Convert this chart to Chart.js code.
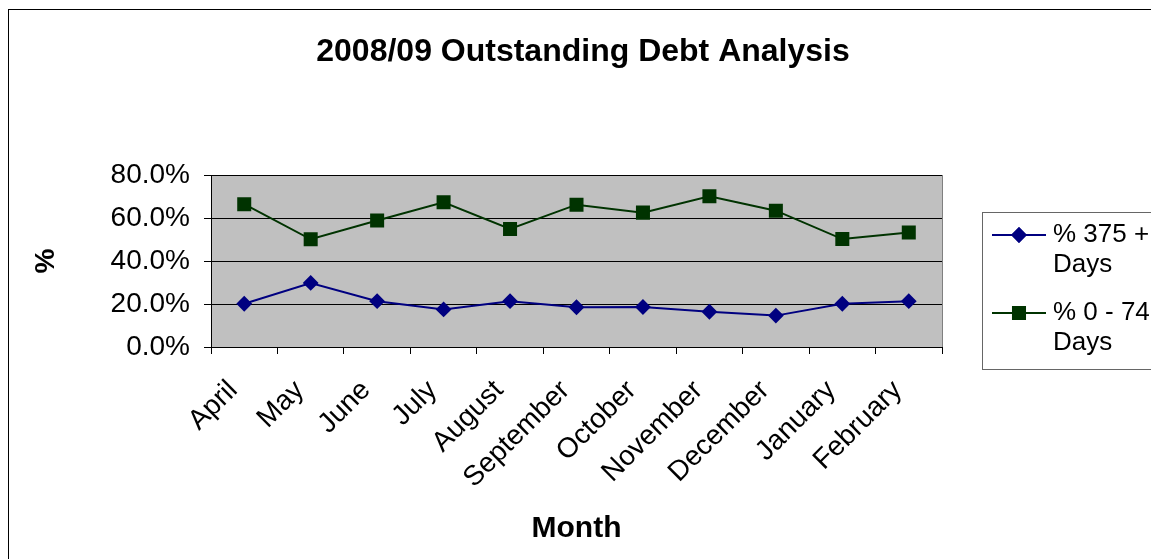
<!DOCTYPE html>
<html>
<head>
<meta charset="utf-8">
<script src="https://cdn.jsdelivr.net/npm/chart.js@4/dist/chart.umd.min.js"></script>
<style>
  html, body { margin: 0; padding: 0; background: #fff; }
  #wrap { width: 1151px; height: 559px; }
</style>
</head>
<body>
<div id="wrap"><canvas id="debt" width="1151" height="559"></canvas></div>
<script>
// Data
const months = ['April', 'May', 'June', 'July', 'August', 'September', 'October', 'November', 'December', 'January', 'February'];
const over375 = [20.1, 29.8, 21.3, 17.5, 21.3, 18.5, 18.6, 16.4, 14.6, 20.1, 21.3];
const days0to74 = [66.4, 50.1, 58.8, 67.3, 54.9, 66.2, 62.5, 70.1, 63.4, 50.2, 53.3];
const yTicks = [0, 20, 40, 60, 80];

const FONT = '"Liberation Sans", Arial, sans-serif';

// Grey plot area, outer frame and the wrapped legend box
const excelLook = {
    id: 'excelLook',
    beforeDraw(chart) {
        const ctx = chart.ctx;
        const a = chart.chartArea;
        ctx.save();
        ctx.fillStyle = '#fff';
        ctx.fillRect(0, 0, chart.width, chart.height);
        ctx.fillStyle = '#C0C0C0';
        ctx.fillRect(a.left, a.top, a.right - a.left, a.bottom - a.top);
        ctx.restore();
        // Excel anchors the slanted month labels a little further left/down
        chart.scales.x.getLabelItems().forEach(it => {
            it.options.translation[0] -= 11;
            it.options.translation[1] += 6;
        });
    },
    beforeDatasetsDraw(chart) {
        const ctx = chart.ctx;
        const a = chart.chartArea;
        ctx.save();
        ctx.strokeStyle = '#808080';
        ctx.lineWidth = 1;
        ctx.beginPath();
        ctx.moveTo(a.right + 0.5, a.top);
        ctx.lineTo(a.right + 0.5, a.bottom);
        ctx.stroke();
        ctx.restore();
    },
    afterDraw(chart) {
        const ctx = chart.ctx;
        ctx.save();
        // outer frame
        ctx.strokeStyle = '#000';
        ctx.lineWidth = 1;
        ctx.strokeRect(8.5, 9.5, 1200, 600);
        // legend box
        ctx.strokeStyle = '#666';
        ctx.strokeRect(982.5, 212.5, 300, 157);
        ctx.font = '26px ' + FONT;
        ctx.fillStyle = '#000';
        ctx.textBaseline = 'middle';
        let y = 235;
        chart.data.datasets.forEach(ds => {
            ctx.strokeStyle = ds.borderColor;
            ctx.lineWidth = 2;
            ctx.beginPath();
            ctx.moveTo(992, y);
            ctx.lineTo(1046, y);
            ctx.stroke();
            Chart.helpers.drawPoint(ctx, {
                pointStyle: ds.pointStyle,
                radius: ds.pointRadius,
                borderWidth: 1,
                rotation: 0
            }, 1019, y);
            ctx.fillStyle = ds.backgroundColor;
            ctx.strokeStyle = ds.borderColor;
            ctx.fill();
            ctx.stroke();
            // wrap label into lines that fit the box
            const words = ds.label.split(' ');
            const lines = [];
            let cur = '';
            words.forEach(w => {
                const test = cur ? cur + ' ' + w : w;
                if (ctx.measureText(test).width > 112 && cur) {
                    lines.push(cur);
                    cur = w;
                } else {
                    cur = test;
                }
            });
            lines.push(cur);
            ctx.fillStyle = '#000';
            lines.forEach((ln, i) => ctx.fillText(ln, 1053, y + i * 30));
            y += 78;
        });
        ctx.restore();
    }
};

new Chart(document.getElementById('debt').getContext('2d'), {
    type: 'line',
    data: {
        labels: months,
        datasets: [{
            label: '% 375 + Days',
            data: over375,
            borderColor: '#000080',
            backgroundColor: '#000080',
            borderWidth: 2,
            pointStyle: 'rectRot',
            pointRadius: 6.5,
            pointHoverRadius: 6.5,
            tension: 0
        }, {
            label: '% 0 - 74 Days',
            data: days0to74,
            borderColor: '#003300',
            backgroundColor: '#003300',
            borderWidth: 2,
            pointStyle: 'rect',
            pointRadius: 8.5,
            pointHoverRadius: 8.5,
            tension: 0
        }]
    },
    options: {
        responsive: false,
        animation: false,
        events: [],
        layout: { padding: { left: 15, right: 0, top: 0, bottom: 0 } },
        plugins: {
            legend: { display: false },
            tooltip: { enabled: false },
            title: {
                display: true,
                text: '2008/09 Outstanding Debt Analysis',
                color: '#000',
                font: { family: FONT, size: 32, weight: 'bold' },
                padding: { top: 33, bottom: 103.6 }
            }
        },
        scales: {
            x: {
                offset: true,
                afterFit: s => { s.height = 212; },
                grid: { display: true, drawOnChartArea: false, drawTicks: true, tickLength: 7, color: '#000', offset: true },
                border: { display: true, color: '#000', width: 1 },
                ticks: {
                    autoSkip: false,
                    maxRotation: 45,
                    minRotation: 45,
                    padding: 14,
                    color: '#000',
                    font: { family: FONT, size: 28 }
                },
                title: {
                    display: true,
                    text: 'Month',
                    color: '#000',
                    font: { family: FONT, size: 30, weight: 'bold' },
                    padding: { top: 0, bottom: 12 }
                }
            },
            y: {
                min: 0,
                max: 80,
                afterFit: s => { s.width = 196; },
                afterBuildTicks: s => { s.ticks = yTicks.map(v => ({ value: v })); },
                grid: { color: '#000', lineWidth: 1, drawTicks: true, tickLength: 7 },
                border: { display: true, color: '#000', width: 1 },
                ticks: {
                    padding: 14,
                    color: '#000',
                    font: { family: FONT, size: 28 },
                    callback: v => v.toFixed(1) + '%'
                },
                title: {
                    display: true,
                    text: '%',
                    color: '#000',
                    font: { family: FONT, size: 28, weight: 'bold' },
                    padding: { top: 14, bottom: 0 }
                }
            },
            legendSpace: {
                position: 'right',
                display: true,
                afterFit: s => { s.width = 209; },
                grid: { display: false },
                border: { display: false },
                ticks: { display: false }
            }
        }
    },
    plugins: [excelLook]
});
</script>
</body>
</html>
